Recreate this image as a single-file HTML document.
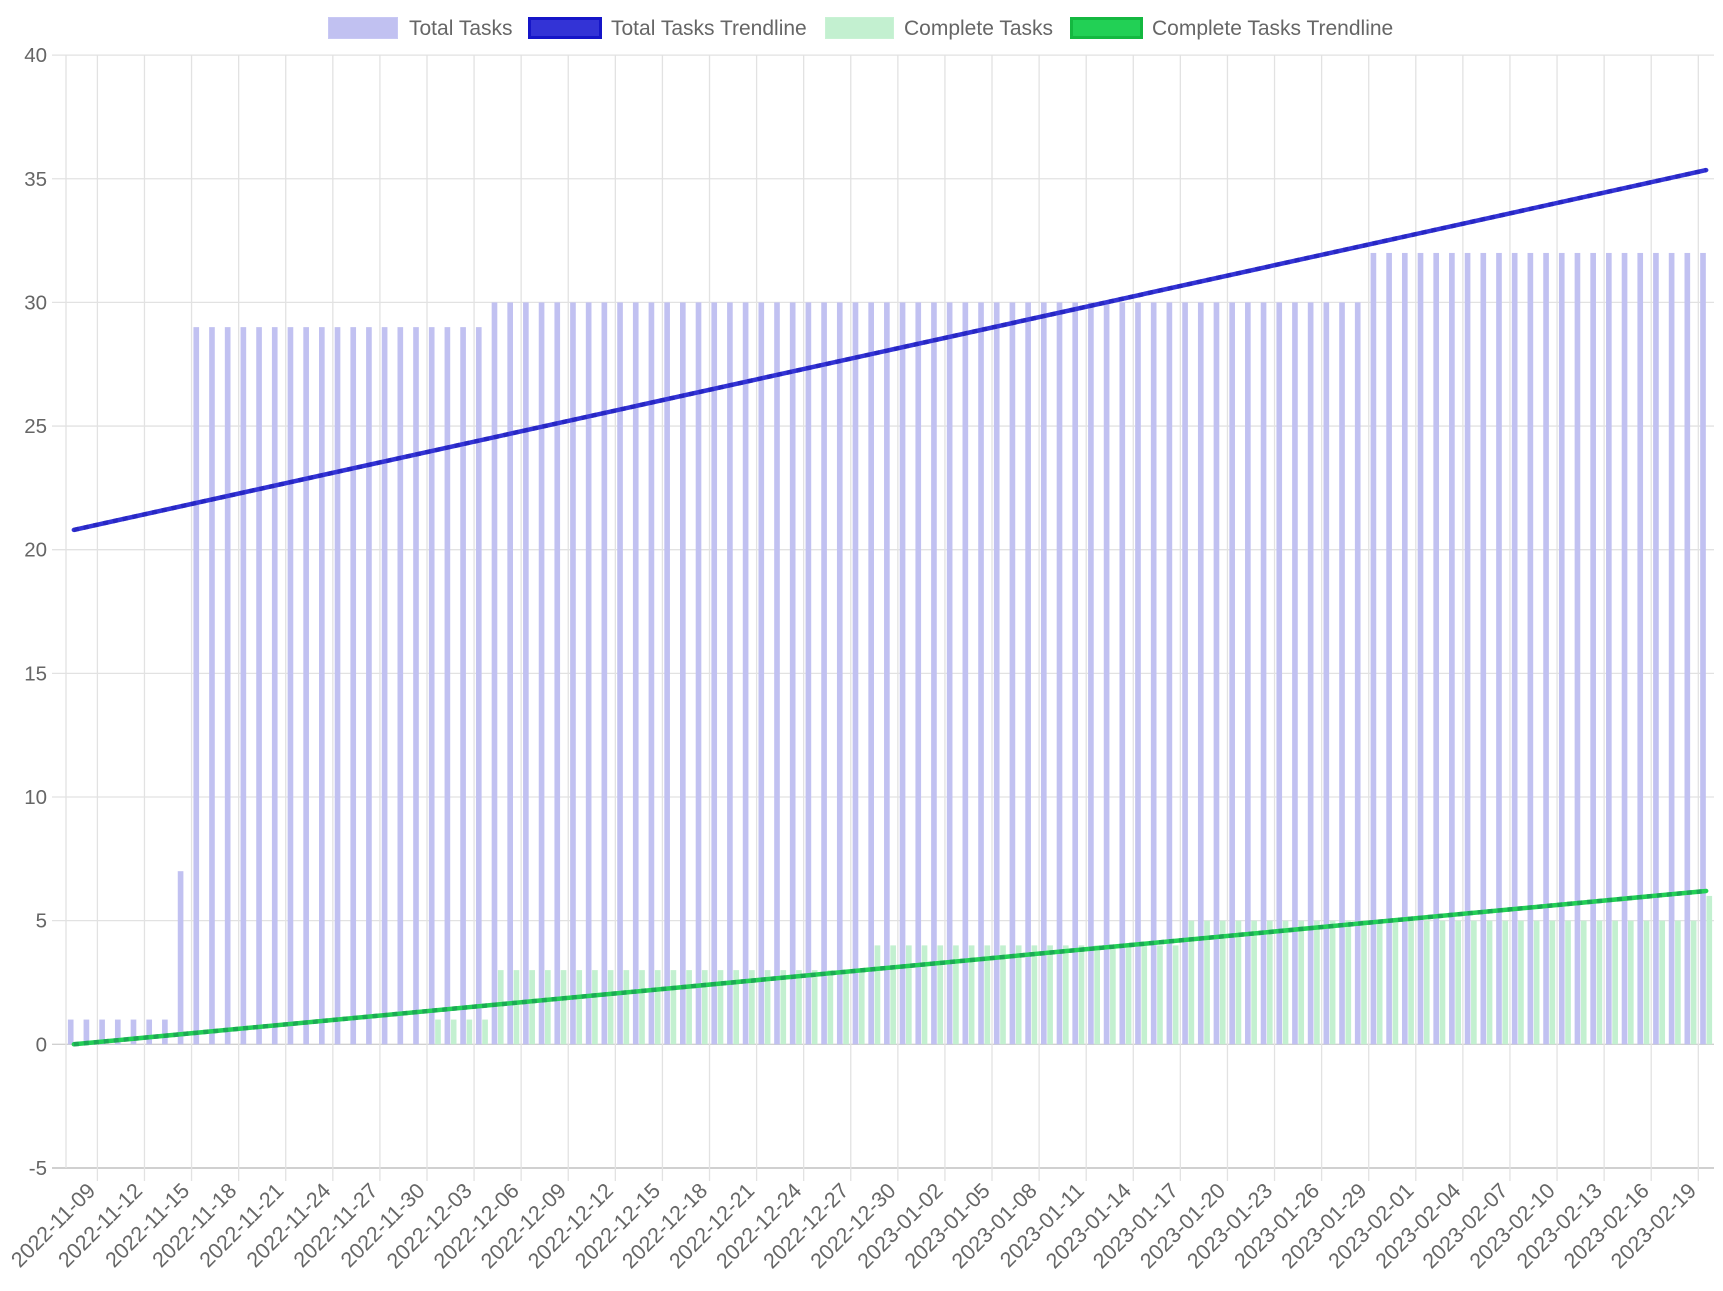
<!DOCTYPE html>
<html><head><meta charset="utf-8"><style>
html,body{margin:0;padding:0;background:#fff;}
svg{display:block;font-family:"Liberation Sans",Arial,sans-serif;}
</style></head><body>
<svg id="c" width="1723" height="1291" xmlns="http://www.w3.org/2000/svg"></svg>
<script>
const svg=document.getElementById('c');
let s='';
const L=66,R=1714,N=105,cw=(R-L)/N;
const y0=1044.3,u=24.73;
const Y=v=>y0-v*u;
for(let v=-5;v<=40;v+=5){
 const y=Y(v);
 s+=`<line x1="52" x2="${R}" y1="${y}" y2="${y}" stroke="${v==-5||v==0?'#d0d0d0':'#e2e2e2'}" stroke-width="${v==-5?2:1.3}"/>`;
 s+=`<text x="47" y="${y+7}" text-anchor="end" font-size="20.5" fill="#666">${v}</text>`;
}
s+=`<line x1="${L}" x2="${L}" y1="${Y(40)}" y2="${Y(-5)}" stroke="#e2e2e2" stroke-width="1.3"/>`;
const start=new Date(Date.UTC(2022,10,8));
for(let i=1;i<N;i+=3){
 const x=L+cw*(i+1);
 s+=`<line x1="${x}" x2="${x}" y1="${Y(40)}" y2="1181" stroke="#e2e2e2" stroke-width="1.3"/>`;
 const d=new Date(start.getTime()+i*86400000);
 const lab=d.toISOString().slice(0,10);
 const tx=L+cw*(i+0.5)+7, ty=1192;
 s+=`<text x="${tx}" y="${ty}" text-anchor="end" font-size="21.5" fill="#666" transform="rotate(-45 ${tx} ${ty})">${lab}</text>`;
}
function total(i){if(i<7)return 1;if(i==7)return 7;if(i<27)return 29;if(i<83)return 30;return 32;}
function comp(i){if(i<23)return 0;if(i<27)return 1;if(i<51)return 3;if(i<71)return 4;if(i<104)return 5;return 6;}
const bw=cw*0.8/2*0.9;
for(let i=0;i<N;i++){
 const cx=L+cw*i+cw*0.1;
 const bx1=cx+cw*0.4*0.05;
 const bx2=cx+cw*0.4+cw*0.4*0.05;
 const t=total(i),c=comp(i);
 s+=`<rect x="${bx1}" y="${Y(t)}" width="${bw}" height="${y0-Y(t)}" fill="#c1c1f1"/>`;
 if(c>0)s+=`<rect x="${bx2}" y="${Y(c)}" width="${bw}" height="${y0-Y(c)}" fill="#c3f0d0"/>`;
}
const xa=L+cw*0.5,xb=L+cw*(N-0.5);
s+=`<line x1="${xa}" y1="${Y(20.8)}" x2="${xb}" y2="${Y(35.35)}" stroke="#3333d6" stroke-width="4.5" stroke-linecap="round"/>`;
s+=`<line x1="${xa}" y1="${Y(20.8)}" x2="${xb}" y2="${Y(35.35)}" stroke="#2020b8" stroke-width="4.5" stroke-dasharray="5 5" opacity="0.6"/>`;
s+=`<line x1="${xa}" y1="${Y(0)}" x2="${xb}" y2="${Y(6.2)}" stroke="#22d055" stroke-width="4.5" stroke-linecap="round"/>`;
s+=`<line x1="${xa}" y1="${Y(0)}" x2="${xb}" y2="${Y(6.2)}" stroke="#1a9a55" stroke-width="4.5" stroke-dasharray="5 5" opacity="0.7"/>`;
const leg=[[328,398,409,'Total Tasks','#c1c1f1','#c8c8f4',1],[528,602,611,'Total Tasks Trendline','#3333d6','#1515c8',3],[825,894,904,'Complete Tasks','#c3f0d0','#c8f2d4',1],[1070,1143,1152,'Complete Tasks Trendline','#22d055','#14b840',3]];
for(const [a,b,t,txt,f,st,sw] of leg){
 s+=`<rect x="${a+sw/2}" y="${17+sw/2}" width="${b-a-sw}" height="${22-sw}" fill="${f}" stroke="${st}" stroke-width="${sw}"/>`;
 s+=`<text x="${t}" y="35" font-size="21" fill="#666">${txt}</text>`;
}
svg.innerHTML=s;
</script>
</body></html>
